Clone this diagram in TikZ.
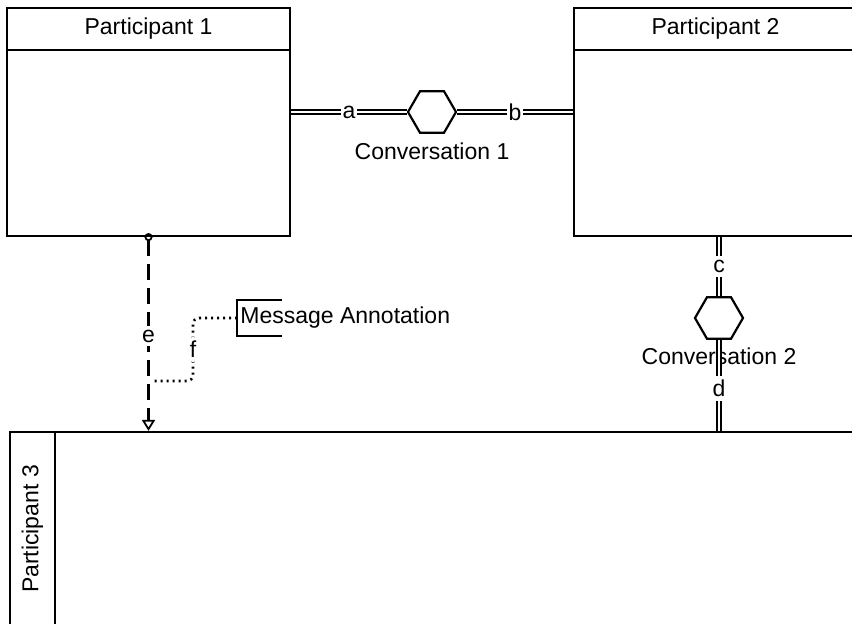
\documentclass[tikz,border=0pt]{standalone}
\usepackage{fontspec}
\setmainfont{Liberation Sans}
\usepackage{tikz}
\usetikzlibrary{arrows.meta,positioning,shapes.geometric,calc}
\definecolor{cLine}{HTML}{000000}
\tikzset{
  pool/.style={rectangle, draw=cLine, line width=1.1pt, inner sep=0pt},
  header/.style={rectangle, draw=cLine, line width=1.1pt, inner sep=0pt, minimum height=21pt},
  conv/.style={regular polygon, regular polygon sides=6, draw=cLine, line width=1.1pt, minimum size=24pt, inner sep=0pt},
  link/.style={double=white, draw=cLine, line width=0.85pt, double distance=1.2pt},
  msg/.style={dash pattern=on 8pt off 4pt, line width=1.8pt,
    {Circle[open, length=4pt, width=4pt, line width=0.9pt]}-{Triangle[open, length=5.5pt, width=6.5pt, line width=0.9pt]}, shorten <=-2pt},
  note/.style={dash pattern=on 1pt off 2pt, line width=1.3pt, line cap=butt, rounded corners=3pt},
  lbl/.style={fill=white, inner xsep=0.8pt, inner ysep=2pt},
  annot/.style={rectangle, inner xsep=1.5pt, minimum height=17pt, anchor=west},
}
\begin{document}
\begin{tikzpicture}[x=0.5pt, y=-0.5pt, font=\fontsize{11.5}{14}\selectfont]
  \useasboundingbox (0,0) rectangle (852,624);
  \clip (0,0) rectangle (852,624);
  \node[pool, minimum width=141.5pt, minimum height=114pt] (p1) at (148.5,122) {};
  \node[header, minimum width=141.5pt, anchor=north] (p1h) at (p1.north) {Participant 1};
  \node[pool, minimum width=141.5pt, minimum height=114pt] (p2) at (715.5,122) {};
  \node[header, minimum width=141.5pt, anchor=north] (p2h) at (p2.north) {Participant 2};
  \node[pool, minimum width=430pt, minimum height=97pt] (p3) at (440,529) {};
  \node[header, minimum width=97pt, minimum height=22.5pt, rotate=90, anchor=north] (p3h) at (p3.west) {Participant 3};
  \node[conv] (c1) at (432,112) {};
  \node[below=1pt of c1] (c1l) {Conversation 1};
  \node[conv] (c2) at (719,318) {};
  \node[below=0.5pt of c2] (c2l) {Conversation 2};
  \node[annot] (ann) at (237,318) {Message Annotation};
  \draw[line width=1.1pt] ([xshift=22.5pt]ann.north west) -| (ann.south west) -- ++(45,0);
  \coordinate (ejoin) at (153,381);
  \draw[link] (p1.east |- c1.west) -- node[lbl] {a} (c1.west);
  \draw[link] (c1.east) -- node[lbl] {b} (p2.west |- c1.east);
  \draw[link] (c2.north |- p2.south) -- node[lbl] {c} (c2.north);
  \draw[link] (c2.south) -- node[lbl, pos=0.53] {d} (c2.south |- p3.north);
  \draw[msg] (p1.south) -- node[lbl, pos=0.51] {e} (p1.south |- p3.north);
  \draw[note] (ann.west) -- ++(-44,0) |- node[lbl, pos=0.25] {f} (ejoin);
\end{tikzpicture}
\end{document}
